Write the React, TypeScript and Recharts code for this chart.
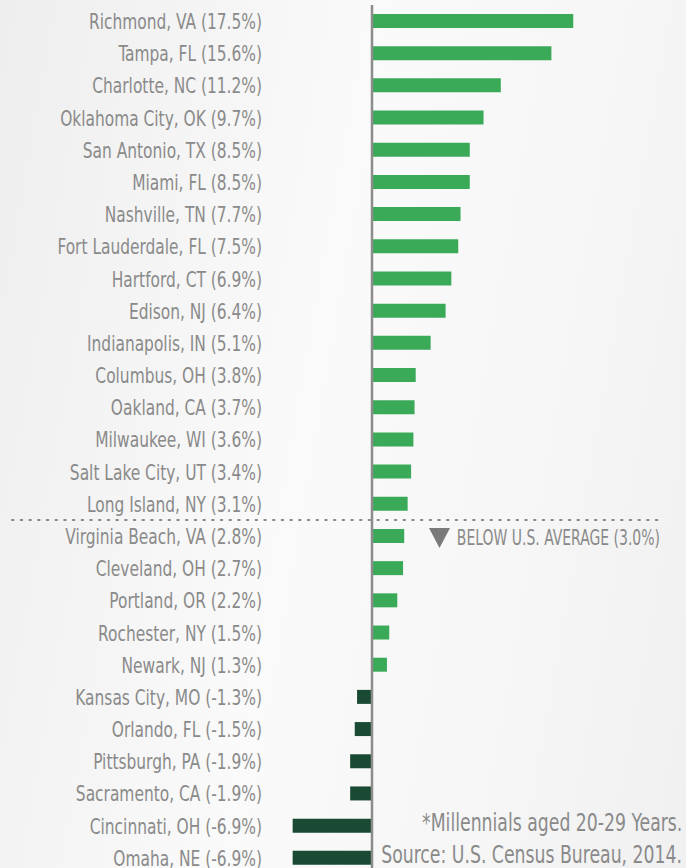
import { Bar, BarChart, XAxis, YAxis, ReferenceLine, Cell } from "recharts"

const cities = [
  "Richmond, VA", "Tampa, FL", "Charlotte, NC", "Oklahoma City, OK", "San Antonio, TX",
  "Miami, FL", "Nashville, TN", "Fort Lauderdale, FL", "Hartford, CT", "Edison, NJ",
  "Indianapolis, IN", "Columbus, OH", "Oakland, CA", "Milwaukee, WI", "Salt Lake City, UT",
  "Long Island, NY", "Virginia Beach, VA", "Cleveland, OH", "Portland, OR", "Rochester, NY",
  "Newark, NJ", "Kansas City, MO", "Orlando, FL", "Pittsburgh, PA", "Sacramento, CA",
  "Cincinnati, OH", "Omaha, NE",
]
const growth = [
  17.5, 15.6, 11.2, 9.7, 8.5, 8.5, 7.7, 7.5, 6.9, 6.4, 5.1, 3.8, 3.7, 3.6, 3.4, 3.1,
  2.8, 2.7, 2.2, 1.5, 1.3, -1.3, -1.5, -1.9, -1.9, -6.9, -6.9,
]
const usAverage = 3.0
const notes = ["*Millennials aged 20-29 Years.", "Source: U.S. Census Bureau, 2014."]

const data = cities.map((c, i) => ({
  name: `${c} (${growth[i].toFixed(1)}%)`,
  value: growth[i],
}))
const firstBelow = data.find((d) => d.value < usAverage)!.name

const font = "'DejaVu Sans Condensed', 'DejaVu Sans', sans-serif"
const grey = "#8a8a8a"
const squeeze = 0.78

function CityTick(props: any) {
  const { x, y, payload } = props
  return (
    <text
      transform={`translate(${x},${y}) scale(${squeeze},1)`}
      textAnchor="end"
      dy="0.36em"
      fill={grey}
      fontSize={22}
      fontFamily={font}
    >
      {payload.value}
    </text>
  )
}

export default function App() {
  return (
    <div
      style={{
        width: 686,
        height: 868,
        overflow: "hidden",
        position: "relative",
        background: "linear-gradient(100deg, #eeeeee 0%, #fafafa 45%, #f6f6f6 75%, #f0f0f0 100%)",
        fontFamily: font,
      }}
    >
      <style>{`body{margin:0}`}</style>
      <BarChart
        width={686}
        height={876}
        data={data}
        layout="vertical"
        margin={{ top: 5, right: 107, bottom: 2, left: 0 }}
        barCategoryGap={0}
      >
        <XAxis type="number" domain={[-8, 18]} hide />
        <YAxis
          dataKey="name"
          type="category"
          width={280}
          axisLine={false}
          tickLine={false}
          tickSize={0}
          tickMargin={18}
          interval={0}
          tick={<CityTick />}
        />
        <Bar dataKey="value" barSize={14} isAnimationActive={false}>
          {data.map((d, i) => (
            <Cell key={`cell-${i}`} fill={d.value >= 0 ? "#3aaa58" : "#1a4a33"} />
          ))}
        </Bar>
        <ReferenceLine x={0} stroke="#8c8c8c" strokeWidth={2.5} />
        <ReferenceLine
          y={firstBelow}
          position="start"
          ifOverflow="visible"
          shape={(p: any) => (
            <g>
              <line
                x1={12}
                x2={664}
                y1={p.y1}
                y2={p.y1}
                stroke="#888"
                strokeWidth={2}
                strokeDasharray="1.5 7.2"
                strokeLinecap="round"
              />
              <polygon
                points={`429,${p.y1 + 8} 450,${p.y1 + 8} 439.5,${p.y1 + 28}`}
                fill="#7a7a7a"
              />
              <text
                transform={`translate(660,${p.y1 + 25}) scale(0.74,1)`}
                textAnchor="end"
                fill={grey}
                fontSize={21}
                fontFamily={font}
              >
                {`BELOW U.S. AVERAGE (${usAverage.toFixed(1)}%)`}
              </text>
            </g>
          )}
        />
      </BarChart>
      {notes.map((n, i) => (
        <div
          key={n}
          style={{
            position: "absolute",
            right: 4,
            top: 809 + i * 32,
            fontSize: 24,
            color: grey,
            whiteSpace: "nowrap",
            lineHeight: "28px",
            transform: "scaleX(0.8)",
            transformOrigin: "right center",
          }}
        >
          {n}
        </div>
      ))}
    </div>
  )
}
